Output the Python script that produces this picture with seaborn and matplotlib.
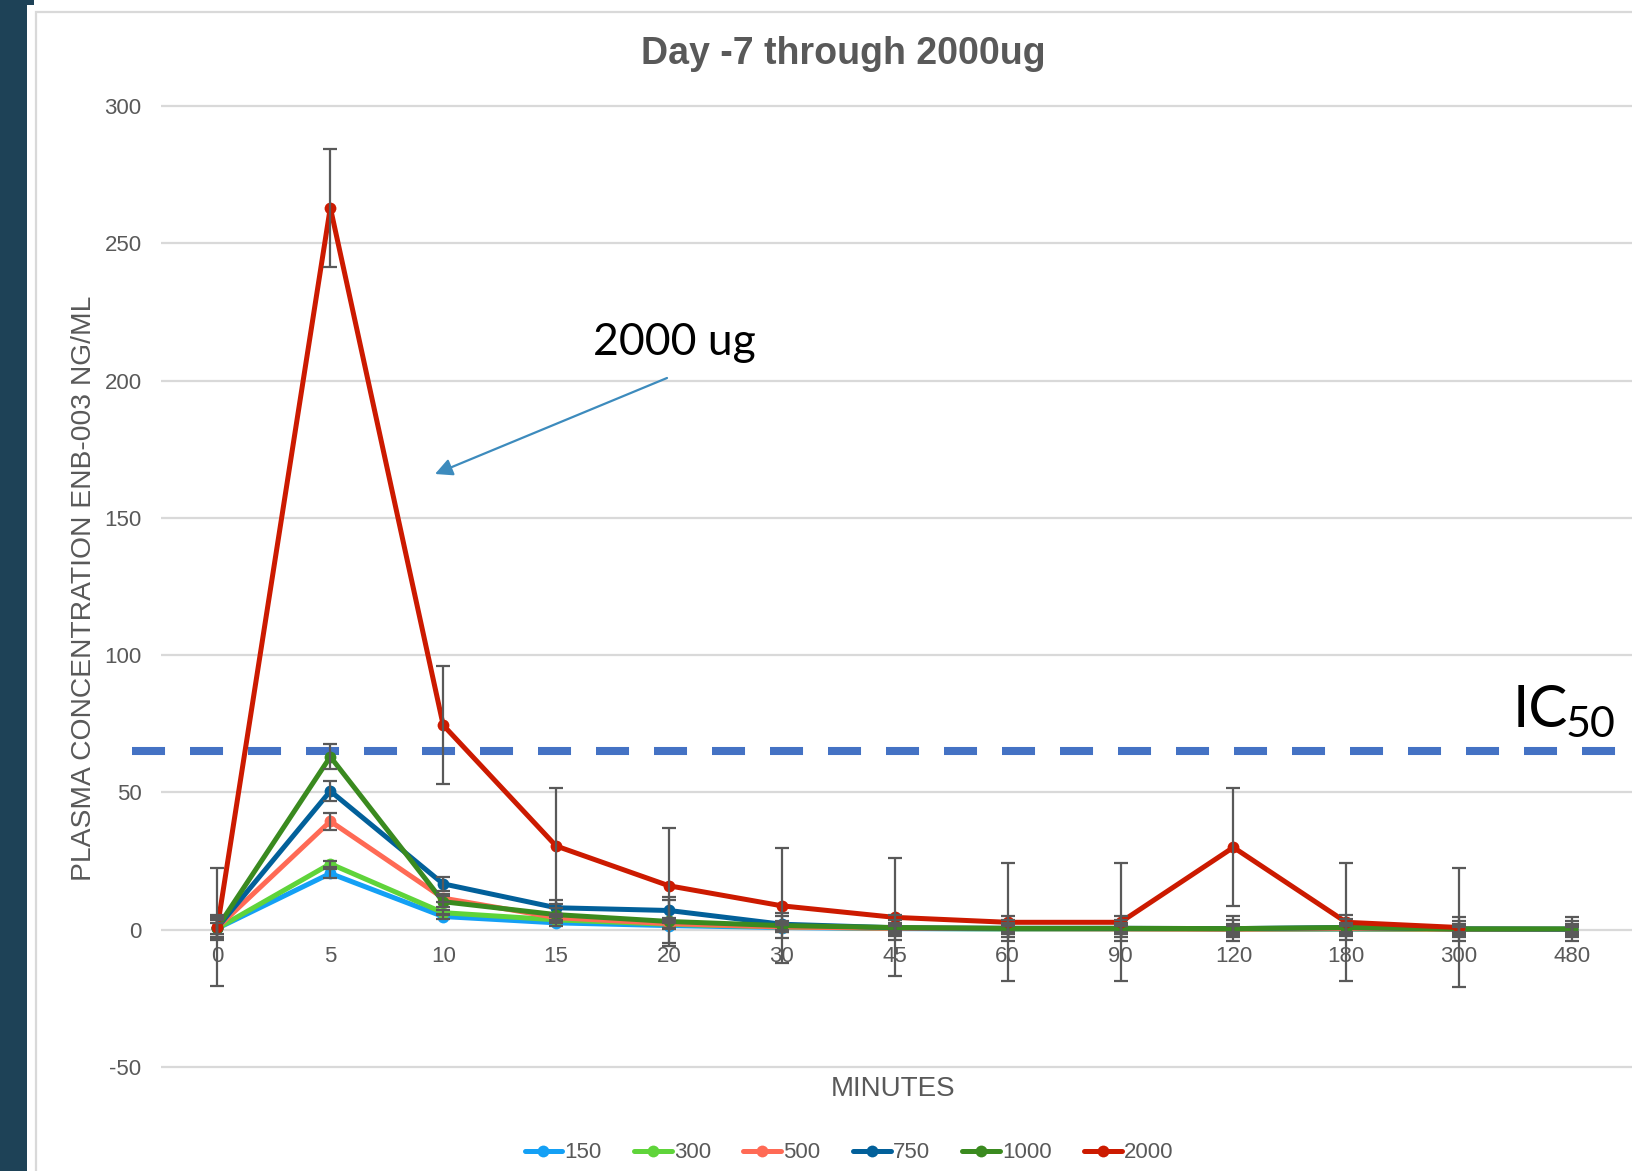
import numpy as np
import pandas as pd
import matplotlib
matplotlib.use("Agg")
import matplotlib.pyplot as plt
from matplotlib.patches import Rectangle
import seaborn as sns

# ---------------- data ----------------
times = ["0", "5", "10", "15", "20", "30", "45", "60", "90", "120", "180", "300", "480"]
doses = ["150", "300", "500", "750", "1000", "2000"]

d150 = [0.5, 20.5, 4.8, 2.5, 1.5, 0.8, 0.4, 0.3, 0.3, 0.2, 0.2, 0.1, 0.1]
d300 = [0.5, 24.0, 6.2, 3.6, 2.0, 1.0, 0.5, 0.3, 0.3, 0.2, 0.3, 0.1, 0.1]
d500 = [0.8, 39.5, 11.5, 4.4, 2.2, 1.0, 0.5, 0.4, 0.3, 0.2, 0.4, 0.2, 0.1]
d750 = [0.8, 50.5, 16.7, 8.0, 7.0, 2.0, 0.7, 0.5, 0.5, 0.4, 0.8, 0.3, 0.2]
d1000 = [0.8, 63.0, 10.2, 5.5, 3.0, 1.5, 0.8, 0.5, 0.5, 0.4, 0.8, 0.3, 0.3]
d2000 = [1.0, 263.0, 74.5, 30.5, 16.0, 8.7, 4.5, 2.7, 2.7, 30.0, 2.7, 0.8, np.nan]

e150 = [2.0, 1.5, 1.0, 1.0, 1.0, 1.0, 1.0, 1.0, 1.0, 1.0, 1.0, 1.0, 1.0]
e300 = [3.0, 1.1, 1.0, 1.0, 1.5, 1.5, 1.5, 1.5, 1.5, 1.5, 1.5, 1.5, 1.5]
e500 = [3.5, 3.1, 1.5, 1.5, 2.0, 2.0, 2.0, 2.0, 2.0, 2.0, 2.0, 2.0, 2.0]
e750 = [4.0, 3.7, 2.5, 3.0, 4.0, 3.0, 3.0, 3.0, 3.0, 3.0, 3.0, 3.0, 3.0]
e1000 = [4.5, 4.5, 2.0, 2.5, 9.0, 4.5, 4.5, 4.5, 4.5, 4.5, 4.5, 4.5, 4.5]
e2000 = [21.5, 21.5, 21.5, 21.0, 21.0, 21.0, 21.5, 21.5, 21.5, 21.5, 21.5, 21.5, np.nan]

ic50 = 65

series = {"150": (d150, e150), "300": (d300, e300), "500": (d500, e500),
          "750": (d750, e750), "1000": (d1000, e1000), "2000": (d2000, e2000)}
palette = {"150": "#14a0f5", "300": "#5fd43a", "500": "#ff6a55",
           "750": "#02609a", "1000": "#3a8a1f", "2000": "#cc1a00"}

rows = []
for dose in doses:
    vals, errs = series[dose]
    for i, t in enumerate(times):
        rows.append({"pos": i, "time": t, "value": vals[i], "err": errs[i], "dose": dose})
df = pd.DataFrame(rows)

# ---------------- style ----------------
sns.set_theme(style="white")
plt.rcParams["font.family"] = ["Liberation Sans", "DejaVu Sans"]
plt.rcParams["axes.unicode_minus"] = False
W, H = 1633, 1171
GRAY = "#595959"

fig = plt.figure(figsize=(W / 100, H / 100), dpi=100)
fig.patch.set_facecolor("white")

# frame decorations
fig.patches.append(Rectangle((0, 0), 27 / W, 1, transform=fig.transFigure,
                             facecolor="#1e4257", edgecolor="none", zorder=0))
fig.patches.append(Rectangle((27 / W, 1 - 5 / H), 7 / W, 5 / H, transform=fig.transFigure,
                             facecolor="#1e4257", edgecolor="none", zorder=0))
fig.patches.append(Rectangle((36 / W, -0.1), 2.0, 1 - 12 / H + 0.1, transform=fig.transFigure,
                             facecolor="none", edgecolor="#d9d9d9", lw=1.6, zorder=0))

ymin, ymax = -51, 301
ppu = 137.3 / 50.0
top_px = 106 - (ymax - 300) * ppu
bot_px = 1067 + (-50 - ymin) * ppu
left_px = 161
ax = fig.add_axes([left_px / W, 1 - bot_px / H, 1 - left_px / W, (bot_px - top_px) / H])
ax.set_facecolor("none")

sns.lineplot(data=df, x="pos", y="value", hue="dose", hue_order=doses, palette=palette,
             marker="o", markersize=8.5, markeredgewidth=0, linewidth=3.6, sort=False,
             errorbar=None, ax=ax, zorder=3)

for dose in doses:
    sub = df[df["dose"] == dose].dropna(subset=["value"])
    ax.errorbar(sub["pos"], sub["value"], yerr=sub["err"], fmt="none",
                ecolor=GRAY, elinewidth=1.6, capsize=5, capthick=1.6, zorder=5)

ax.set_xlim(-0.5, 12.54)
ax.set_ylim(ymin, ymax)
ax.set_yticks(np.arange(-50, 301, 50))
ax.set_xticks(range(len(times)))
ax.set_xticklabels(times)
ax.grid(axis="y", color="#d9d9d9", lw=1.6)
ax.grid(axis="x", visible=False)
for s in ax.spines.values():
    s.set_visible(False)
ax.spines["bottom"].set_position(("data", 0))
ax.tick_params(axis="y", length=0, pad=14, labelsize=16, labelcolor=GRAY)
ax.tick_params(axis="x", length=0, pad=12, labelsize=16, labelcolor=GRAY)
ax.set_xlabel("")
ax.set_ylabel("")

# IC50 dashed line
ax.axhline(ic50, xmin=(132 - left_px) / (W - left_px), xmax=1, color="#4472c4",
           lw=5.8, dashes=(4.1, 3.1), clip_on=False, zorder=2)

# legend
handles, labels = ax.get_legend_handles_labels()
ax.get_legend().remove()
fig.legend(handles, labels, loc="center", bbox_to_anchor=(849 / W, 1 - 1153 / H), ncol=6,
           frameon=False, fontsize=16, labelcolor=GRAY, handlelength=1.7,
           handletextpad=0.1, columnspacing=1.45)

# texts
fig.text(843 / W, 1 - 54 / H, "Day -7 through 2000ug", ha="center", va="center",
         fontsize=27, fontweight="bold", color=GRAY)
fig.text(84 / W, 1 - 588 / H, "PLASMA CONCENTRATION ENB-003 NG/ML", rotation=90,
         ha="center", va="center", fontsize=20.3, color=GRAY)
fig.text(893 / W, 1 - 1089 / H, "MINUTES", ha="center", va="center", fontsize=20, color=GRAY)

fig.text(593 / W, 1 - 355 / H, "2000 ug", ha="left", va="baseline", fontsize=32,
         family=["Lato", "DejaVu Sans"], color="black")
fig.text(1513 / W, 1 - 727 / H, "IC", ha="left", va="baseline", fontsize=42,
         family=["Lato", "DejaVu Sans"], color="black")
fig.text(1566 / W, 1 - 737 / H, "50", ha="left", va="baseline", fontsize=31,
         family=["Lato", "DejaVu Sans"], color="black")

ax.annotate("", xy=(435, H - 474), xycoords="figure pixels",
            xytext=(667, H - 378), textcoords="figure pixels",
            arrowprops=dict(arrowstyle="-|>", color="#3d8bbd", lw=1.6,
                            mutation_scale=26, shrinkA=0, shrinkB=0))

fig.savefig("out.png", dpi=100)
